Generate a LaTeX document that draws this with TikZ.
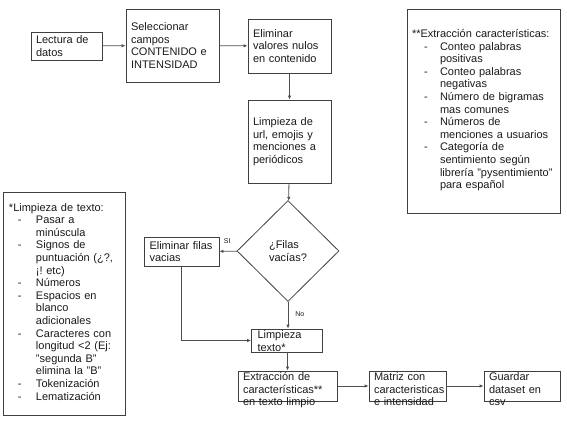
\documentclass[tikz,border=0pt]{standalone}
\usepackage{fontspec}
\setmainfont{Liberation Sans}
\usetikzlibrary{shapes.geometric,arrows.meta}
\definecolor{boxc}{HTML}{404040}
\definecolor{linec}{HTML}{505050}
\definecolor{txt}{HTML}{1A1A1A}
\frenchspacing
\begin{document}
\begin{tikzpicture}[x=1pt,y=-1pt,
  box/.style={draw=boxc, line width=0.8pt, inner xsep=5pt, inner ysep=0pt, align=left,
    font=\fontsize{11}{12.6}\selectfont, text=txt},
  dia/.style={draw=boxc, line width=0.8pt, diamond, inner sep=0pt, align=left,
    font=\fontsize{11}{12.6}\selectfont, text=txt},
  conn/.style={draw=linec, line width=0.8pt, -{Latex[length=4pt,width=3.5pt]}},
  lbl/.style={font=\fontsize{7}{8}\selectfont, text=txt, inner sep=0pt},
]
\useasboundingbox (0,0) rectangle (567,425);

\node[box, minimum width=71pt, minimum height=28pt, text width=61pt] (lec) at (66.5,46) {Lectura de\\datos};
\node[box, minimum width=93pt, minimum height=73pt, text width=83pt] (sel) at (172.5,45.5) {Seleccionar\\campos\\CONTENIDO e\\INTENSIDAD};
\node[box, minimum width=83pt, minimum height=54pt, text width=73pt] (nul) at (289.5,46) {Eliminar\\valores nulos\\en contenido};
\node[box, minimum width=83pt, minimum height=83pt, text width=73pt] (url) at (289.5,141.5) {Limpieza de\\url, emojis y\\menciones a\\periódicos};
\node[dia, minimum width=102pt, minimum height=101pt] (vac) at (288,251) {¿Filas\\vacías?};
\node[box, minimum width=75pt, minimum height=29pt, text width=64pt] (fil) at (181.5,251.5) {Eliminar filas\\vacias};
\node[box, minimum width=70pt, minimum height=23pt, text width=59pt, inner xsep=6pt] (lim) at (287,340.5)
  {\raisebox{-3.5pt}[0pt][0pt]{\parbox{59pt}{Limpieza\\texto*}}};
\node[box, minimum width=99pt, minimum height=30pt, text width=89pt] (ext) at (287.5,386)
  {\raisebox{-7pt}[0pt][0pt]{\parbox{89pt}{Extracción de\\características**\\en texto limpio}}};
\node[box, minimum width=77pt, minimum height=30pt, text width=67pt] (mat) at (407.5,386)
  {\raisebox{-6pt}[0pt][0pt]{\parbox{67pt}{Matriz con\\caracteristicas\\e intensidad}}};
\node[box, minimum width=76pt, minimum height=30pt, text width=66pt] (gua) at (522,386)
  {\raisebox{-6pt}[0pt][0pt]{\parbox{66pt}{Guardar\\dataset en\\csv}}};

\node[box, minimum width=122pt, minimum height=223pt, text width=110pt, inner xsep=6pt] (ltx) at (64,303.5)
  {*Limpieza de texto:\\
   \begin{tabular}[t]{@{\hspace{9pt}}p{18pt}@{}l@{}}
   - & Pasar a\\
     & minúscula\\
   - & Signos de\\
     & puntuación (¿?,\\
     & ¡! etc)\\
   - & Números\\
   - & Espacios en\\
     & blanco\\
     & adicionales\\
   - & Caracteres con\\
     & longitud <2 (Ej:\\
     & "segunda B"\\
     & elimina la "B"\\
   - & Tokenización\\
   - & Lematización
   \end{tabular}};

\node[box, minimum width=153pt, minimum height=204pt, text width=143pt] (car) at (483.5,111)
  {**Extracción características:\\
   \begin{tabular}[t]{@{\hspace{12pt}}p{16pt}@{}l@{}}
   - & Conteo palabras\\
     & positivas\\
   - & Conteo palabras\\
     & negativas\\
   - & Número de bigramas\\
     & mas comunes\\
   - & Números de\\
     & menciones a usuarios\\
   - & Categoría de\\
     & sentimiento según\\
     & librería "pysentimiento"\\
     & para español
   \end{tabular}};

\draw[conn] (lec) -- (sel);
\draw[conn] (sel) -- (nul);
\draw[conn] (nul.south -| url.north) -- (url.north);
\draw[conn] (url) -- (vac);
\draw[conn] (vac) -- node[lbl, pos=0.55, above=7pt] {SI} (fil);
\draw[conn] (vac.south) -- node[lbl, pos=0.45, right=7pt] {No} (vac.south |- lim.north);
\draw[conn] (fil.south) |- (lim.west);
\draw[conn] (lim.south -| ext.north) -- (ext.north);
\draw[conn] (ext) -- (mat);
\draw[conn] (mat) -- (gua);
\end{tikzpicture}
\end{document}
